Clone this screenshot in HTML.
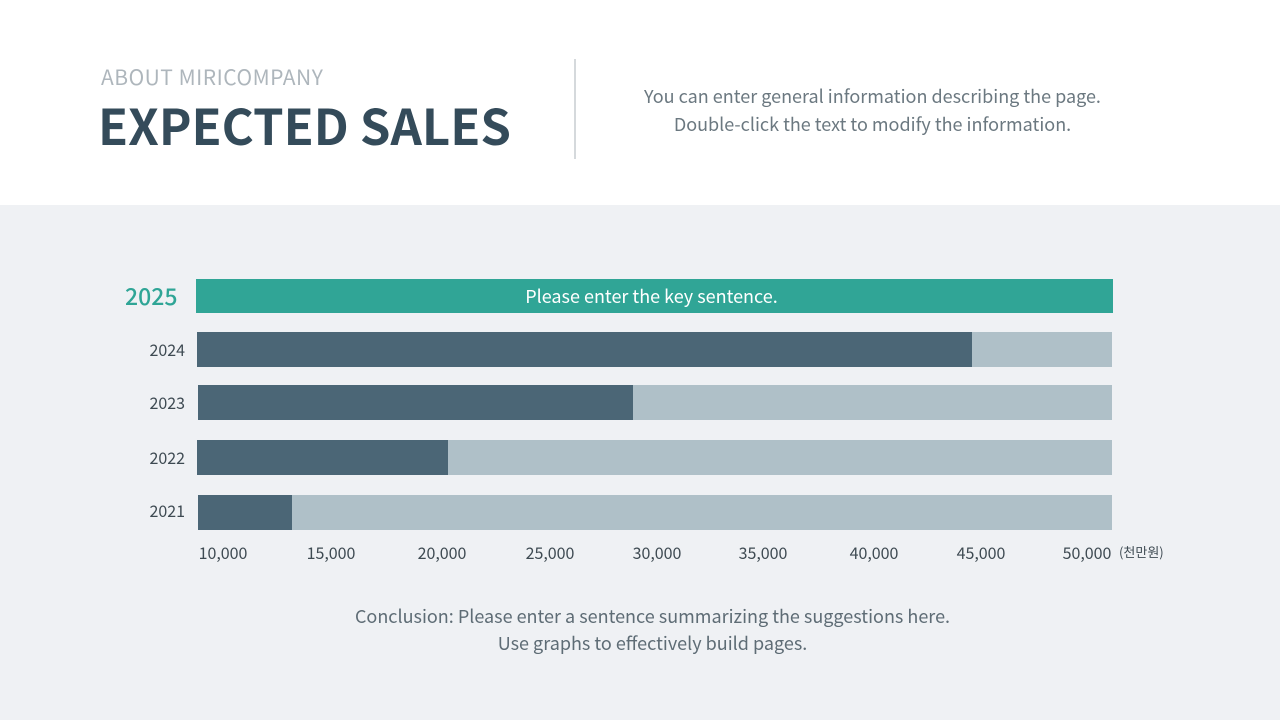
<!DOCTYPE html>
<html><head><meta charset="utf-8"><style>
body{margin:0;width:1280px;height:720px;position:relative;background:#fff;font-family:"Noto Sans CJK KR","Liberation Sans",sans-serif;overflow:hidden}
.t{position:absolute;white-space:nowrap}
.bot{position:absolute;left:0;top:205px;width:1280px;height:515px;background:#eff1f4}
.bar{position:absolute;height:35px;background:#afc0c8}
.d{position:absolute;left:0;top:0;height:100%;background:#4b6676}
.yl{position:absolute;width:60px;text-align:right;font-size:16px;color:#3e4a52;left:125px}
.xl{position:absolute;top:540px;font-size:16px;color:#3e4a52;transform:translateX(-50%)}
</style></head><body>
<div class="t" style="left:101px;top:62px;font-size:21px;color:#aeb6bc;letter-spacing:0.5px">ABOUT MIRICOMPANY</div>
<div class="t" style="left:98px;top:89px;font-size:49px;font-weight:bold;color:#344b5a">EXPECTED SALES</div>
<div style="position:absolute;left:574px;top:59px;width:2px;height:100px;background:#d5d9dc"></div>
<div class="t" style="left:600px;width:545px;text-align:center;top:82px;font-size:18px;line-height:28px;color:#6b7880">You can enter general information describing the page.<br>Double-click the text to modify the information.</div>
<div class="bot"></div>
<div class="t" style="left:125px;top:278px;font-size:23px;font-weight:500;color:#2fa596">2025</div>
<div class="bar" style="left:196px;top:279px;width:917px;height:34px;background:#30a596;color:#fff;font-size:18px;text-align:center;line-height:34px;text-indent:-6px">Please enter the key sentence.</div>
<div class="yl" style="top:337px">2024</div>
<div class="bar" style="left:197px;top:332px;width:915px"><div class="d" style="width:775px"></div></div>
<div class="yl" style="top:390px">2023</div>
<div class="bar" style="left:198px;top:385px;width:914px"><div class="d" style="width:435px"></div></div>
<div class="yl" style="top:445px">2022</div>
<div class="bar" style="left:197px;top:440px;width:915px"><div class="d" style="width:251px"></div></div>
<div class="yl" style="top:498px">2021</div>
<div class="bar" style="left:198px;top:495px;width:914px"><div class="d" style="width:94px"></div></div>
<div class="xl" style="left:223px">10,000</div>
<div class="xl" style="left:331px">15,000</div>
<div class="xl" style="left:442px">20,000</div>
<div class="xl" style="left:550px">25,000</div>
<div class="xl" style="left:657px">30,000</div>
<div class="xl" style="left:763px">35,000</div>
<div class="xl" style="left:874px">40,000</div>
<div class="xl" style="left:981px">45,000</div>
<div class="xl" style="left:1087px">50,000</div>
<div class="t" style="left:1119px;top:542px;font-size:13px;color:#3e4a52">(천만원)</div>
<div class="t" style="left:300px;width:705px;text-align:center;top:603px;font-size:18px;line-height:27px;color:#5e6c75">Conclusion: Please enter a sentence summarizing the suggestions here.<br>Use graphs to effectively build pages.</div>
</body></html>
